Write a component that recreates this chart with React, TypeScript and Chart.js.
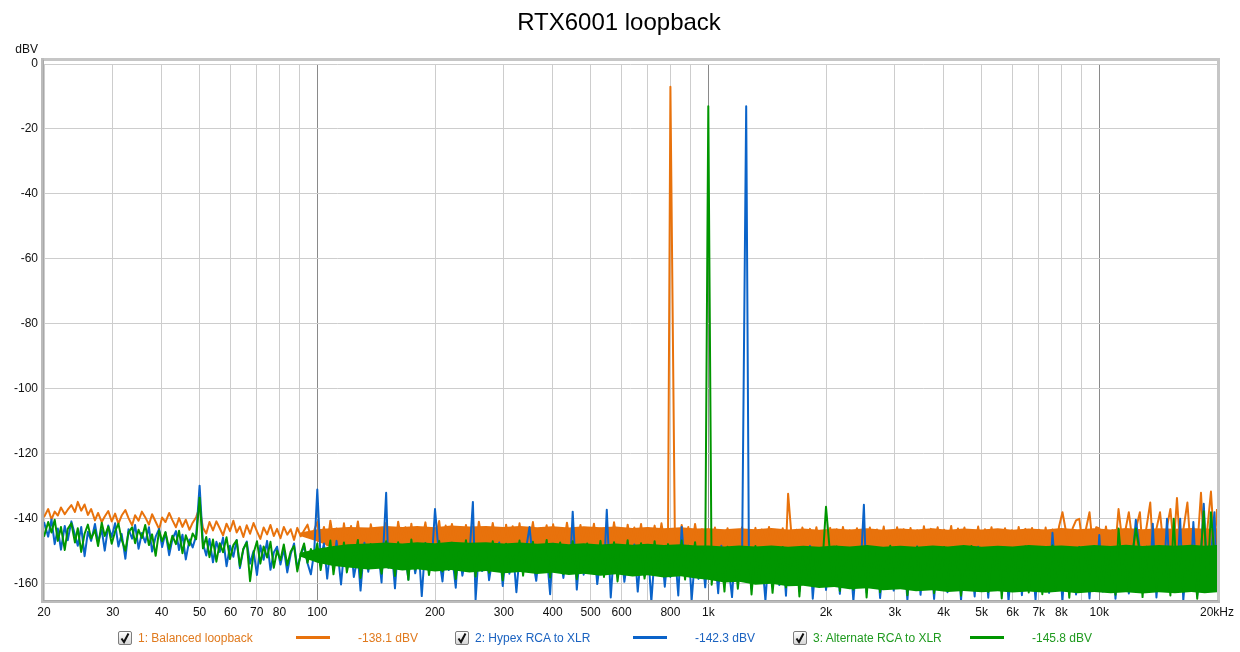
import React, { useEffect, useRef } from 'react';
import { Chart, registerables } from 'chart.js';

Chart.register(...registerables);

const FONT = '"Liberation Sans", Arial, sans-serif';
const TITLE = 'RTX6001 loopback';
const Y_UNIT = 'dBV';

const X_GRID = [20, 30, 40, 50, 60, 70, 80, 90, 100, 200, 300, 400, 500, 600, 700, 800, 900, 1000, 2000, 3000, 4000, 5000, 6000, 7000, 8000, 9000, 10000, 20000];
const X_MAJOR = [100, 1000, 10000];
const X_TICK_VALUES = [20, 30, 40, 50, 60, 70, 80, 100, 200, 300, 400, 500, 600, 800, 1000, 2000, 3000, 4000, 5000, 6000, 7000, 8000, 10000, 20000];
const X_TICK_LABELS = ['20', '30', '40', '50', '60', '70', '80', '100', '200', '300', '400', '500', '600', '800', '1k', '2k', '3k', '4k', '5k', '6k', '7k', '8k', '10k', '20kHz'];
const Y_TICKS = [0, -20, -40, -60, -80, -100, -120, -140, -160];

const SERIES_NAMES = ['1: Balanced loopback', '2: Hypex RCA to XLR', '3: Alternate RCA to XLR'];
const SERIES_LEVELS = ['-138.1 dBV', '-142.3 dBV', '-145.8 dBV'];
const SERIES_COLORS = ['#E8720C', '#0A63C9', '#009600'];
const LEGEND_TEXT_COLORS = ['#E07A1E', '#1A62C0', '#1F9A1F'];

// frequency grid (Hz), per decade
const freqLow = [
  20, 20.5, 20.9, 21.3, 21.7, 22.1, 22.6, 23, 23.5, 24,
  24.4, 24.9, 25.4, 25.9, 26.4, 27, 27.5, 28.1, 28.6, 29.2,
  29.8, 30.4, 31, 31.6, 32.3, 32.9, 33.6, 34.2, 34.9, 35.6,
  36.3, 37.1, 37.8, 38.6, 39.4, 40.1, 40.9, 41.8, 42.6, 43.5,
  44.3, 45.2, 46.1, 47.1, 48, 49, 50, 51, 52, 53,
  54.1, 55.2, 56.3, 57.4, 58.6, 59.8, 61, 62.2, 63.4, 64.7,
  66, 67.3, 68.7, 70.1, 71.5, 72.9, 74.4, 75.9, 77.4, 78.9,
  80.5, 82.1, 83.8, 85.5, 87.2, 88.9, 90.7, 92.5, 94.4, 96.3,
  98.2,
];
const freqMid = [
  100, 102, 104, 106, 108, 110, 112, 115, 117, 119,
  122, 124, 127, 129, 132, 135, 137, 140, 143, 146,
  150, 152, 155, 158, 161, 164, 168, 171, 174, 178,
  182, 185, 189, 193, 197, 200, 205, 209, 213, 217,
  221, 226, 230, 235, 240, 244, 250, 254, 259, 264,
  270, 275, 281, 286, 292, 298, 304, 310, 316, 323,
  329, 336, 342, 349, 356, 363, 371, 378, 386, 394,
  401, 409, 418, 426, 435, 443, 450, 461, 471, 480,
  490, 500, 510, 520, 530, 541, 550, 563, 574, 586,
  598, 610, 622, 634, 647, 660, 673, 687, 701, 715,
  729, 744, 759, 774, 789, 800, 821, 838, 855, 872,
  889, 907, 925, 944, 963, 982,
];
const freqHigh = [
  1000, 1020, 1040, 1060, 1080, 1100, 1120, 1150, 1170, 1190,
  1220, 1250, 1270, 1290, 1320, 1350, 1370, 1400, 1430, 1460,
  1490, 1520, 1550, 1580, 1600, 1640, 1680, 1710, 1740, 1780,
  1820, 1850, 1890, 1930, 1970, 2000, 2050, 2090, 2130, 2170,
  2210, 2260, 2300, 2350, 2400, 2440, 2500, 2540, 2590, 2640,
  2700, 2750, 2810, 2860, 2920, 2980, 3040, 3100, 3160, 3230,
  3290, 3360, 3420, 3490, 3560, 3630, 3710, 3780, 3860, 3940,
  4010, 4090, 4180, 4260, 4350, 4430, 4520, 4610, 4710, 4800,
  4900, 5000, 5100, 5200, 5300, 5410, 5520, 5630, 5740, 5860,
  5980, 6100, 6220, 6340, 6470, 6600, 6730, 6870, 7010, 7150,
  7290, 7440, 7590, 7740, 7890, 8050, 8210, 8380, 8550, 8720,
  8890, 9070, 9250, 9440, 9630, 9820,
];
const freqTop = [
  10000, 10200, 10400, 10600, 10800, 11000, 11200, 11500, 11700, 11900,
  12200, 12400, 12700, 12900, 13200, 13500, 13700, 14000, 14300, 14600,
  14900, 15200, 15500, 15800, 16100, 16400, 16800, 17100, 17400, 17800,
  18200, 18500, 18900, 19300, 19700, 20000,
];

// 1: Balanced loopback (dBV)
const balancedLow = [
  -139.5, -137, -140.2, -137.8, -139, -136.5, -138.6, -137.2, -135.8, -137.9,
  -134.8, -137.5, -135.6, -138.8, -137, -140.5, -138.2, -141, -139.3, -137.6,
  -140.8, -138.4, -141.5, -139, -137.3, -139.8, -142, -138.9, -140.6, -137.8,
  -139.5, -141.8, -138.6, -140.9, -143.2, -139.6, -141, -138.2, -140.4, -142.6,
  -139.8, -142.5, -140.3, -143.4, -141.2, -139.5, -136.5, -142.8, -144.5, -141,
  -143.6, -140.8, -142.9, -145.1, -141.5, -143.8, -140.6, -144.2, -142.4, -145.6,
  -142, -144.6, -141.3, -143.9, -146.2, -142.7, -144.8, -141.9, -145.3, -143.1,
  -146, -142.5, -144.9, -143.2, -146.5, -142.8, -145.4, -143.6, -141.8, -145.7,
  -143.5,
];
const balancedMid = [
  -141, -147, -142.5, -148.2, -140.6, -146.5, -143, -149, -141.4, -147.6,
  -142.2, -148.8, -140.8, -146.9, -143.5, -150.2, -141.7, -147.3, -142.9, -148.5,
  -141.2, -147.9, -143.3, -149.4, -140.9, -146.6, -142.6, -148.9, -141.5, -150.5,
  -142.8, -147.2, -141.1, -148.6, -143.4, -146.8, -140.7, -149.3, -142.1, -147.7,
  -141.6, -148.4, -143.1, -150.8, -141.9, -147.5, -142.4, -149.1, -140.9, -147,
  -142.7, -148.7, -141.3, -146.9, -143.6, -149.6, -141.8, -147.8, -142.3, -148.2,
  -141.4, -149.9, -142.8, -147.4, -141, -148.5, -143.2, -147.1, -142, -149.2,
  -141.7, -147.6, -143.5, -148.9, -141.2, -147.3, -142.6, -150.3, -141.9, -148,
  -142.9, -147.8, -141.5, -149.5, -143, -147.2, -142.2, -148.7, -141.1, -147.9,
  -143.3, -149.1, -141.8, -147.5, -142.7, -148.6, -141.6, -150.1, -143.1, -147.4,
  -142.1, -148.3, -141.4, -147.7, -142.8, -7, -143.4, -148.8, -141.9, -147.6,
  -142.5, -149.4, -141.6, -148.1, -143.2, -147.3,
];
const balancedHigh = [
  -143.2, -148.5, -142.7, -149.2, -143.8, -147.6, -142.9, -148.9, -143.5, -147.9,
  -142.6, -149.3, -143.9, -148.1, -142.8, -149.6, -143.3, -147.8, -142.5, -148.7,
  -143.6, -148.4, -142.9, -149.1, -132.3, -148.2, -143.4, -149.5, -142.7, -148,
  -143.1, -149, -142.6, -148.6, -143.7, -147.7, -142.8, -149.4, -143.2, -148.3,
  -142.5, -148.9, -143.5, -147.6, -142.9, -149.2, -143.6, -148.1, -142.7, -149.7,
  -143.3, -148.4, -142.4, -149, -143.8, -147.9, -142.6, -148.8, -143.2, -149.3,
  -142.8, -148.2, -143.5, -149.6, -142.3, -148.5, -143.1, -147.8, -142.6, -149.1,
  -143.4, -148.7, -142.2, -149.4, -143, -148, -142.7, -149.2, -143.6, -148.3,
  -142.4, -149, -143.2, -148.4, -142.6, -149.5, -143.8, -147.9, -142.9, -148.8,
  -143.5, -149.3, -142.5, -148.1, -143.1, -149.6, -142.8, -148.5, -143.4, -149,
  -142.7, -148.6, -143.3, -149.2, -142.4, -138, -143.6, -148.2, -142.9, -140.5,
  -140, -148.4, -143, -138, -148.9, -142.6,
];
const balancedTop = [
  -143, -148.6, -142.4, -149.1, -143.5, -148.3, -137, -148.8, -142.6, -138,
  -148.5, -143.2, -138, -149.3, -142.7, -135, -148.7, -143.1, -138, -149,
  -142.5, -137, -148.4, -133.6, -149.2, -143.4, -135, -148.1, -142.8, -149.5,
  -132, -148.6, -143, -131.6, -148.9, -137,
];

// 2: Hypex RCA to XLR (dBV)
const hypexLow = [
  -141, -145.5, -140.2, -147.8, -143, -149.5, -142.2, -146.6, -140.8, -144.9,
  -148.3, -142.5, -151.5, -144, -146.8, -141.6, -147.2, -143.3, -149.8, -142.1,
  -145.6, -141.4, -148.5, -144.7, -152.3, -143.2, -146.1, -141.9, -149.2, -144.4,
  -147.3, -142.6, -150.1, -145.5, -143.1, -148.7, -144.2, -151.2, -146.3, -143.8,
  -149.6, -144.9, -152.5, -146.4, -148.8, -145.2, -129.8, -147.6, -151.3, -146.2,
  -153.4, -147.1, -150.2, -145.8, -154.6, -148.3, -151.7, -146.5, -155.2, -149.4,
  -147, -153.8, -149.9, -157.3, -148.2, -152.6, -146.8, -155.7, -150.4, -148.6,
  -154.1, -149.2, -156.5, -150.9, -147.6, -155.3, -151.1, -148.4, -153.7, -157.1,
  -150.2,
];
const hypexMid = [
  -131, -152.3, -147.6, -158.4, -149.1, -155.6, -146.8, -160.2, -150.3, -154.7,
  -148.2, -157.9, -151.5, -162.1, -147.4, -156.3, -150.8, -153.9, -148.9, -159.6,
  -132, -155.1, -149.3, -161.4, -147.8, -154.2, -151.2, -158.7, -148.5, -156.8,
  -150.6, -163.8, -147.5, -155.4, -149.9, -137, -152.2, -159.3, -148.1, -155.8,
  -150.9, -161.2, -147.9, -157.5, -151.4, -154.6, -134.8, -164.9, -149.6, -156.1,
  -148.7, -158.9, -151.8, -155.2, -147.3, -160.7, -150.1, -156.9, -148.4, -162.6,
  -151.3, -155.7, -149.2, -142.5, -152.9, -159.1, -148.6, -154.8, -150.5, -163.2,
  -147.7, -156.4, -151.6, -158.2, -149.4, -155.3, -137.8, -161.8, -148.9, -157.2,
  -150.7, -154.3, -148.2, -160.1, -151.9, -156.6, -137.2, -164.2, -149.5, -155.9,
  -148.4, -159.4, -152.1, -156.2, -147.9, -162.4, -150.6, -157.6, -149.1, -165.5,
  -151.4, -155.5, -148.7, -160.9, -150.2, -157.9, -149.6, -163.6, -142.5, -156.4,
  -148.3, -164.8, -151.7, -158.5, -149.8, -161.1,
];
const hypexHigh = [
  -149.2, -158.6, -150.7, -162.9, -148.3, -157.4, -151.9, -164.1, -149.5, -159.2,
  -152.4, -13, -150.3, -161.5, -148.6, -157.8, -151.2, -165.2, -149.1, -158.3,
  -152.8, -160.4, -148.9, -163.7, -150.6, -157.1, -149.7, -162.3, -151.5, -158.8,
  -148.4, -164.6, -150.9, -159.5, -149.3, -161.9, -152.1, -157.5, -148.8, -163.1,
  -151.6, -158.1, -149.9, -165.3, -150.4, -160.6, -135.7, -162.7, -151.3, -158.9,
  -149, -164.4, -152.3, -159.8, -148.7, -162.1, -150.8, -157.9, -149.6, -165,
  -151.8, -160.3, -148.5, -163.4, -150.2, -158.4, -152, -164.7, -149.4, -159.6,
  -151.1, -162.6, -148.9, -158.7, -150.5, -165.1, -149.2, -160.8, -152.2, -163.9,
  -148.6, -159.3, -151.4, -164.3, -149.8, -158.2, -150.9, -162.2, -148.8, -165.4,
  -151.7, -160.1, -149.1, -163.5, -150.3, -158.6, -152.4, -164.9, -149.5, -159.9,
  -150.6, -162.8, -144.3, -158.1, -151.5, -165.2, -149, -160.5, -152.1, -163.3,
  -148.7, -159.4, -151.2, -164.5, -150, -161.7,
];
const hypexTop = [
  -145, -162.4, -150.8, -158.2, -149.3, -164.6, -151.6, -159.5, -148.9, -163,
  -150.5, -140.3, -149.6, -160.9, -152.2, -158, -141.5, -164.2, -150.1, -159.7,
  -140, -162.5, -151, -158.8, -140, -165.1, -149.4, -160.2, -141, -163.6,
  -150.7, -135.4, -159.1, -151.8, -138, -162,
];

// 3: Alternate RCA to XLR (dBV)
const alternateLow = [
  -145.5, -141, -144.2, -140.3, -146.8, -142.5, -149.6, -143.1, -141.4, -147.3,
  -142.9, -150.2, -144.6, -141.8, -146.1, -143.5, -148.4, -141.2, -145.3, -142.4,
  -147.7, -143.9, -141.5, -146.4, -149.8, -144.2, -142.6, -147.5, -143.4, -145.9,
  -141.9, -148.1, -144.8, -151.4, -143.6, -146.9, -144.1, -149.3, -145.2, -147.8,
  -143.7, -150.6, -145.1, -148.2, -144.5, -146.3, -133.5, -149.1, -145.6, -151.8,
  -146.4, -153.2, -147.5, -150.3, -145.7, -152.4, -148.1, -146.6, -154.5, -149.2,
  -147.3, -159.2, -150.6, -146.9, -153.8, -148.5, -151.9, -147.1, -155.1, -149.8,
  -152.7, -147.9, -154.3, -150.1, -148.4, -156.2, -150.8, -147.6, -153.5, -149.3,
  -152.1,
];
const alternateMid = [
  -147.6, -155.8, -149.2, -152.4, -146.7, -157.1, -150.5, -154.2, -147.3, -156.5,
  -150.1, -153.6, -146.5, -158.2, -149.7, -155.3, -147.8, -152.9, -150.9, -156.9,
  -146.9, -154.8, -149.4, -157.6, -147.2, -153.1, -150.3, -158.8, -146.4, -155.6,
  -149.9, -152.7, -147.5, -157.3, -150.6, -154.5, -146.8, -156.2, -149.1, -153.8,
  -147.4, -158.5, -150.2, -155, -146.6, -153.4, -149.8, -157.8, -147.9, -154.1,
  -150.4, -156.6, -146.9, -153.3, -149.5, -158.9, -147.7, -155.2, -150.8, -152.6,
  -146.7, -157.5, -149.3, -154.7, -147.1, -156.8, -150.1, -153.2, -146.5, -158.1,
  -149.6, -155.4, -147.3, -157, -150.5, -153.5, -146.9, -158.6, -149.2, -154.9,
  -147.6, -156.3, -150.2, -153.7, -146.8, -157.9, -149.4, -155.1, -147.2, -159.3,
  -150.6, -154, -146.6, -157.2, -149.9, -153.4, -147.5, -158.4, -150.3, -155.5,
  -146.9, -156.7, -149.1, -153.9, -147.8, -157.7, -150.4, -154.6, -146.7, -158.7,
  -149.7, -155.3, -147.2, -156.4, -150, -153.6,
];
const alternateHigh = [
  -13, -160.3, -149.5, -157.2, -151.8, -162.4, -148.6, -158.1, -150.9, -161.5,
  -149.2, -156.8, -151.5, -163.3, -148.4, -159.1, -150.6, -157.4, -149.9, -162.8,
  -151.2, -158.2, -148.7, -161.1, -150.4, -156.9, -149.3, -163.9, -151.7, -158.5,
  -148.9, -160.7, -150.8, -157.6, -149.1, -136.3, -151.3, -159.4, -148.5, -162.2,
  -150.7, -157.3, -149.6, -161.8, -151.9, -158.3, -148.8, -164.2, -150.2, -157.8,
  -149.4, -162.6, -151.4, -158.6, -148.3, -160.9, -150.5, -157.1, -149.8, -163.5,
  -151.6, -158.9, -148.6, -161.4, -150.3, -157.5, -149.2, -162.9, -151.1, -158.4,
  -148.7, -160.6, -150.9, -157.9, -149.5, -163.7, -151.4, -158.7, -148.4, -161.2,
  -150.1, -157.7, -149.7, -162.5, -151.5, -158.2, -148.9, -164.5, -150.6, -157.6,
  -149.3, -161.6, -151.2, -158.8, -148.5, -162.7, -150.4, -157.3, -149.6, -163.2,
  -151.8, -158.1, -148.2, -161.3, -150.7, -157.8, -149.1, -164.3, -151.3, -158.6,
  -148.8, -160.4, -150.2, -157.5, -149.4, -162.1,
];
const alternateTop = [
  -149.6, -161.9, -150.8, -157.7, -148.9, -163.4, -143, -158.4, -151.1, -162.2,
  -149.3, -143, -150.6, -164.1, -148.6, -158.9, -151.2, -161.3, -149.8, -157.6,
  -150.9, -163.6, -140, -158.3, -149.1, -162.4, -151.5, -157.2, -148.7, -164.6,
  -150.3, -137.7, -159.6, -138, -151.2, -161,
];

// dense noise floor bands (where the trace is packed solid), upper / lower edges in dBV
const bandFreq = [
  90, 100, 110, 120, 135, 150, 165, 180, 200, 220,
  245, 270, 300, 330, 365, 400, 440, 480, 530, 580,
  640, 700, 770, 850, 930, 1000, 1100, 1200, 1320, 1450,
  1600, 1750, 1920, 2100, 2300, 2550, 2800, 3100, 3400, 3750,
  4100, 4500, 5000, 5500, 6000, 6600, 7300, 8000, 8800, 9700,
  10700, 11700, 12900, 14200, 15600, 17200, 18600, 20000,
];
const balancedBandUpper = [
  -144.3, -143.2, -142.8, -142.5, -142.7, -142.2, -142.5, -142.2, -142.6, -142.1,
  -142.4, -142.2, -142.5, -142.2, -142.6, -142.3, -142.7, -142.3, -142.6, -142.4,
  -142.8, -142.5, -142.9, -142.6, -143, -142.9, -143.2, -142.9, -143.2, -142.8,
  -143.3, -143, -143.4, -143, -143.3, -142.9, -143.4, -143, -143.3, -142.9,
  -143.4, -143, -143.3, -142.9, -143.4, -143, -143.3, -142.8, -143.2, -142.9,
  -143.3, -142.8, -143.2, -142.9, -143.1, -142.8, -143.1, -142.9,
];
const balancedBandLower = [
  -145.2, -147, -149, -150, -150, -150, -150, -150, -150, -150,
  -150, -150, -150, -150, -150, -150, -150, -150, -150, -150,
  -150, -150, -150, -150, -150, -150, -150, -150, -150, -150,
  -150, -150, -150, -150, -150, -150, -150, -150, -150, -150,
  -150, -150, -150, -150, -150, -150, -150, -150, -150, -150,
  -150, -150, -150, -150, -150, -150, -150, -150,
];
const alternateBandUpper = [
  -150.5, -149.2, -148.4, -147.8, -147.6, -147.3, -147.6, -147.2, -147.5, -147.1,
  -147.4, -147.2, -147.6, -147.3, -147.7, -147.4, -147.8, -147.5, -147.9, -147.6,
  -148, -147.7, -148.1, -147.8, -148.2, -148.2, -148.5, -148.2, -148.5, -148.2,
  -148.6, -148.3, -148.6, -148.2, -148.5, -148.1, -148.6, -148.3, -148.6, -148.2,
  -148.5, -148.1, -148.6, -148.3, -148.5, -148.1, -148.4, -148.2, -148.5, -148.1,
  -148.4, -148, -148.4, -148.1, -148.3, -148, -148.3, -148.1,
];
const alternateBandLower = [
  -151.5, -153.5, -154.5, -155, -155.6, -155.2, -155.9, -155.5, -156.2, -155.8,
  -156.5, -156.1, -156.8, -156.4, -157, -156.6, -157.3, -156.9, -157.5, -157.1,
  -157.8, -157.4, -158.1, -157.7, -158.4, -158.8, -159.6, -159.4, -160.3, -160,
  -160.8, -160.6, -161.3, -161, -161.7, -161.4, -162, -161.7, -162.3, -162,
  -162.5, -162.2, -162.6, -162.3, -162.7, -162.4, -162.8, -162.4, -162.9, -162.5,
  -162.9, -162.6, -163, -162.6, -162.9, -162.5, -162.9, -162.6,
];

const FREQ_SEGMENTS = [freqLow, freqMid, freqHigh, freqTop];

function buildPoints(segments: number[][]) {
  const pts: { x: number; y: number }[] = [];
  segments.forEach((vals, s) => {
    const freqs = FREQ_SEGMENTS[s];
    const n = Math.min(freqs.length, vals.length);
    for (let i = 0; i < n; i++) pts.push({ x: freqs[i], y: vals[i] });
  });
  return pts;
}

function buildBand(vals: number[]) {
  const n = Math.min(bandFreq.length, vals.length);
  const pts: { x: number; y: number }[] = [];
  for (let i = 0; i < n; i++) pts.push({ x: bandFreq[i], y: vals[i] });
  return pts;
}

const decorPlugin = {
  id: 'decor',
  beforeDraw(chart: any) {
    const { ctx } = chart;
    ctx.save();
    ctx.fillStyle = '#ffffff';
    ctx.fillRect(0, 0, chart.width, chart.height);
    ctx.restore();
  },
  afterDraw(chart: any) {
    const { ctx, chartArea: a, scales } = chart;
    ctx.save();
    // frame
    ctx.fillStyle = '#c6c6c6';
    ctx.fillRect(a.left - 3, a.top - 6, a.right - a.left + 6, 3);
    ctx.fillRect(a.right, a.top - 6, 3, a.bottom - a.top + 9);
    ctx.fillStyle = '#bcbcbc';
    ctx.fillRect(a.left - 3, a.top - 6, 3, a.bottom - a.top + 9);
    ctx.fillRect(a.left - 3, a.bottom, a.right - a.left + 6, 3);
    ctx.fillStyle = '#a8a8a8';
    ctx.fillRect(a.left - 1, a.top - 4, 1, a.bottom - a.top + 5);
    ctx.fillRect(a.left - 1, a.bottom, a.right - a.left + 2, 1);

    // tick labels
    ctx.fillStyle = '#111';
    ctx.font = `12px ${FONT}`;
    ctx.textAlign = 'right';
    ctx.textBaseline = 'middle';
    Y_TICKS.forEach((v) => {
      ctx.fillText(String(v), a.left - 6, scales.y.getPixelForValue(v));
    });
    ctx.fillText(Y_UNIT, a.left - 6, a.top - 14);
    ctx.textAlign = 'center';
    X_TICK_VALUES.forEach((v, i) => {
      ctx.fillText(X_TICK_LABELS[i], scales.x.getPixelForValue(v), a.bottom + 13);
    });

    // title
    ctx.fillStyle = '#000';
    ctx.font = `24px ${FONT}`;
    ctx.fillText(TITLE, 619, 23);
    ctx.restore();
  },
};

function CheckBox({ left }: { left: number }) {
  return (
    <div
      style={{
        position: 'absolute',
        left,
        top: 631,
        width: 12,
        height: 12,
        border: '1px solid #7d7d7d',
        borderRadius: 2,
        background: 'linear-gradient(#ffffff, #d6d6d6)',
      }}
    >
      <svg width={12} height={12} style={{ position: 'absolute', left: 0, top: 0 }}>
        <path d="M2.5 6.5 L5 10 L9.5 1.5" stroke="#111" strokeWidth={2} fill="none" />
      </svg>
    </div>
  );
}

const LEGEND_POS = [
  { box: 118, text: 138, line: 296, value: 358 },
  { box: 455, text: 475, line: 633, value: 695 },
  { box: 793, text: 813, line: 970, value: 1032 },
];

function lineSet(label: string, data: any[], color: string, order: number) {
  return {
    label,
    data,
    borderColor: color,
    backgroundColor: color,
    borderWidth: 2,
    pointRadius: 0,
    tension: 0,
    fill: false,
    order,
    clip: 0,
    borderJoinStyle: 'round',
  };
}

function bandSet(label: string, data: any[], color: string, order: number, fill: any) {
  return {
    label,
    data,
    borderColor: 'rgba(0,0,0,0)',
    backgroundColor: color,
    borderWidth: 0,
    pointRadius: 0,
    tension: 0,
    fill,
    order,
    clip: 0,
  };
}

export default function App() {
  const ref = useRef<HTMLCanvasElement>(null);

  useEffect(() => {
    const canvas = ref.current;
    if (!canvas) return;
    const balanced = buildPoints([balancedLow, balancedMid, balancedHigh, balancedTop]);
    const hypex = buildPoints([hypexLow, hypexMid, hypexHigh, hypexTop]);
    const alternate = buildPoints([alternateLow, alternateMid, alternateHigh, alternateTop]);
    const datasets = [
      lineSet(SERIES_NAMES[0], balanced, SERIES_COLORS[0], 4),
      bandSet('b-up', buildBand(balancedBandUpper), SERIES_COLORS[0], 5, '+1'),
      bandSet('b-lo', buildBand(balancedBandLower), SERIES_COLORS[0], 6, false),
      lineSet(SERIES_NAMES[1], hypex, SERIES_COLORS[1], 3),
      lineSet(SERIES_NAMES[2], alternate, SERIES_COLORS[2], 0),
      bandSet('a-up', buildBand(alternateBandUpper), SERIES_COLORS[2], 1, '+1'),
      bandSet('a-lo', buildBand(alternateBandLower), SERIES_COLORS[2], 2, false),
    ];
    const chart = new Chart(canvas, {
      type: 'line',
      data: { datasets: datasets as any },
      options: {
        responsive: false,
        animation: false,
        devicePixelRatio: 1,
        events: [],
        layout: { padding: { left: 44, right: 23, top: 64, bottom: 52 } },
        plugins: {
          legend: { display: false },
          title: { display: false },
          tooltip: { enabled: false },
          filler: { propagate: false },
        },
        scales: {
          x: {
            type: 'logarithmic',
            min: 20,
            max: 20000,
            ticks: { display: false },
            grid: {
              drawTicks: false,
              lineWidth: 1,
              color: (ctx: any) => (X_MAJOR.includes(ctx.tick && ctx.tick.value) ? '#8a8a8a' : '#cdcdcd'),
            },
            border: { display: false },
            afterBuildTicks: (s: any) => {
              s.ticks = X_GRID.map((v) => ({ value: v }));
            },
            afterFit: (s: any) => {
              s.height = 0;
            },
          },
          y: {
            type: 'linear',
            min: -165,
            max: 0,
            ticks: { display: false },
            grid: { drawTicks: false, lineWidth: 1, color: '#cdcdcd' },
            border: { display: false },
            afterBuildTicks: (s: any) => {
              s.ticks = Y_TICKS.map((v) => ({ value: v }));
            },
            afterFit: (s: any) => {
              s.width = 0;
            },
          },
        },
      } as any,
      plugins: [decorPlugin],
    });
    return () => chart.destroy();
  }, []);

  return (
    <div
      style={{
        position: 'absolute',
        left: 0,
        top: 0,
        width: 1240,
        height: 652,
        background: '#fff',
        overflow: 'hidden',
        fontFamily: FONT,
        fontSize: 12,
      }}
    >
      <canvas
        ref={ref}
        width={1240}
        height={652}
        style={{ position: 'absolute', left: 0, top: 0, width: 1240, height: 652 }}
      />
      {LEGEND_POS.map((p, i) => (
        <React.Fragment key={i}>
          <CheckBox left={p.box} />
          <div
            style={{
              position: 'absolute',
              left: p.text,
              top: 630,
              height: 16,
              lineHeight: '16px',
              whiteSpace: 'nowrap',
              color: LEGEND_TEXT_COLORS[i],
            }}
          >
            {SERIES_NAMES[i]}
          </div>
          <div
            style={{
              position: 'absolute',
              left: p.line,
              top: 636,
              width: 34,
              height: 3,
              background: SERIES_COLORS[i],
            }}
          />
          <div
            style={{
              position: 'absolute',
              left: p.value,
              top: 630,
              height: 16,
              lineHeight: '16px',
              whiteSpace: 'nowrap',
              color: LEGEND_TEXT_COLORS[i],
            }}
          >
            {SERIES_LEVELS[i]}
          </div>
        </React.Fragment>
      ))}
    </div>
  );
}
